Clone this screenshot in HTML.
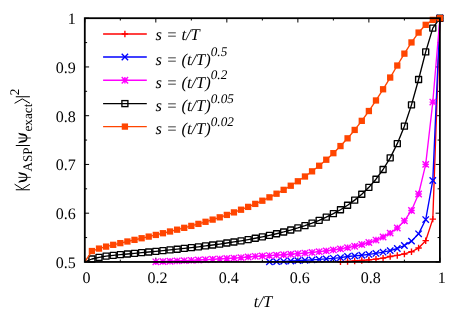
<!DOCTYPE html>
<html><head><meta charset="utf-8"><title>plot</title>
<style>html,body{margin:0;padding:0;background:#fff;overflow:hidden}body{width:463px;height:324px;position:relative;font-family:"Liberation Serif",serif}.tx{font-family:"Liberation Serif",serif;text-rendering:geometricPrecision}svg{will-change:transform}</style>
</head><body>
<svg width="463" height="324" viewBox="0 0 463 324" style="display:block;position:absolute;left:0;top:0">
<rect width="463" height="324" fill="#fff"/>
<defs><clipPath id="c"><rect x="84.8" y="18.2" width="355.09999999999997" height="243.75"/></clipPath></defs>
<path d="M84.80 261.95v-4.3M84.80 18.2v4.3M120.31 261.95v-2.3M120.31 18.2v2.3M155.82 261.95v-4.3M155.82 18.2v4.3M191.33 261.95v-2.3M191.33 18.2v2.3M226.84 261.95v-4.3M226.84 18.2v4.3M262.35 261.95v-2.3M262.35 18.2v2.3M297.86 261.95v-4.3M297.86 18.2v4.3M333.37 261.95v-2.3M333.37 18.2v2.3M368.88 261.95v-4.3M368.88 18.2v4.3M404.39 261.95v-2.3M404.39 18.2v2.3M439.90 261.95v-4.3M439.90 18.2v4.3M84.8 261.95h4.3M439.9 261.95h-4.3M84.8 237.57h2.3M439.9 237.57h-2.3M84.8 213.20h4.3M439.9 213.20h-4.3M84.8 188.82h2.3M439.9 188.82h-2.3M84.8 164.45h4.3M439.9 164.45h-4.3M84.8 140.07h2.3M439.9 140.07h-2.3M84.8 115.70h4.3M439.9 115.70h-4.3M84.8 91.32h2.3M439.9 91.32h-2.3M84.8 66.95h4.3M439.9 66.95h-4.3M84.8 42.58h2.3M439.9 42.58h-2.3M84.8 18.20h4.3M439.9 18.20h-4.3" stroke="#000" stroke-width="1" fill="none"/>
<g stroke="#ff0000" stroke-width="1.35" fill="none"><path d="M103.1 34.0H146.8"/><path d="M121.70 34.0H128.10M124.9 30.80V37.20"/></g>
<g stroke="#0000ff" stroke-width="1.35" fill="none"><path d="M103.1 57.0H146.8"/><path d="M121.70 53.80L128.10 60.20M121.70 60.20L128.10 53.80"/></g>
<g stroke="#ff00ff" stroke-width="1.35" fill="none"><path d="M103.1 80.2H146.8"/><path d="M121.70 80.2H128.10M124.9 77.00V83.40M121.70 77.00L128.10 83.40M121.70 83.40L128.10 77.00"/></g>
<g stroke="#000000" stroke-width="1.35" fill="none"><path d="M103.1 103.6H146.8"/><rect x="121.90" y="100.60" width="6.0" height="6.0"/></g>
<g stroke="#ff4500" stroke-width="1.35" fill="none"><path d="M103.1 126.6H146.8"/><rect x="121.75" y="123.45" width="6.3" height="6.3" fill="#ff4500" stroke="none"/></g>
<g stroke="#ff0000" stroke-width="1.35" fill="none" stroke-linejoin="round"><path d="M340.47 261.91L347.57 261.49L354.68 261.03L361.78 260.49L368.88 259.86L375.98 259.10L383.08 258.13L390.19 256.49L397.29 255.43L404.39 253.95L411.49 251.73L418.59 248.04L425.70 240.68L432.80 219.15L439.90 18.20"/>
<path d="M337.27 261.91H343.67M340.47 258.71V265.11"/><path d="M344.37 261.49H350.77M347.57 258.29V264.69"/><path d="M351.48 261.03H357.88M354.68 257.83V264.23"/><path d="M358.58 260.49H364.98M361.78 257.29V263.69"/><path d="M365.68 259.86H372.08M368.88 256.66V263.06"/><path d="M372.78 259.1H379.18M375.98 255.90V262.30"/><path d="M379.88 258.13H386.28M383.08 254.93V261.33"/><path d="M386.99 256.49H393.39M390.19 253.29V259.69"/><path d="M394.09 255.43H400.49M397.29 252.23V258.63"/><path d="M401.19 253.95H407.59M404.39 250.75V257.15"/><path d="M408.29 251.73H414.69M411.49 248.53V254.93"/><path d="M415.39 248.04H421.79M418.59 244.84V251.24"/><path d="M422.50 240.68H428.90M425.7 237.48V243.88"/><path d="M429.60 219.15H436.00M432.8 215.95V222.35"/><path d="M436.70 18.2H443.10M439.9 15.00V21.40"/>
</g>
<g stroke="#0000ff" stroke-width="1.35" fill="none" stroke-linejoin="round"><path d="M269.45 261.88L276.55 261.60L283.66 261.31L290.76 260.99L297.86 260.64L304.96 260.27L312.06 259.86L319.17 259.41L326.27 258.90L333.37 258.31L340.47 257.61L347.57 256.48L354.68 255.90L361.78 255.23L368.88 254.42L375.98 253.43L383.08 252.19L390.19 250.60L397.29 248.49L404.39 245.54L411.49 241.13L418.59 233.84L425.70 219.57L432.80 180.48L439.90 18.20"/>
<path d="M266.25 258.68L272.65 265.08M266.25 265.08L272.65 258.68"/><path d="M273.35 258.40L279.75 264.80M273.35 264.80L279.75 258.40"/><path d="M280.46 258.11L286.86 264.51M280.46 264.51L286.86 258.11"/><path d="M287.56 257.79L293.96 264.19M287.56 264.19L293.96 257.79"/><path d="M294.66 257.44L301.06 263.84M294.66 263.84L301.06 257.44"/><path d="M301.76 257.07L308.16 263.47M301.76 263.47L308.16 257.07"/><path d="M308.86 256.66L315.26 263.06M308.86 263.06L315.26 256.66"/><path d="M315.97 256.21L322.37 262.61M315.97 262.61L322.37 256.21"/><path d="M323.07 255.70L329.47 262.10M323.07 262.10L329.47 255.70"/><path d="M330.17 255.11L336.57 261.51M330.17 261.51L336.57 255.11"/><path d="M337.27 254.41L343.67 260.81M337.27 260.81L343.67 254.41"/><path d="M344.37 253.28L350.77 259.68M344.37 259.68L350.77 253.28"/><path d="M351.48 252.70L357.88 259.10M351.48 259.10L357.88 252.70"/><path d="M358.58 252.03L364.98 258.43M358.58 258.43L364.98 252.03"/><path d="M365.68 251.22L372.08 257.62M365.68 257.62L372.08 251.22"/><path d="M372.78 250.23L379.18 256.63M372.78 256.63L379.18 250.23"/><path d="M379.88 248.99L386.28 255.39M379.88 255.39L386.28 248.99"/><path d="M386.99 247.40L393.39 253.80M386.99 253.80L393.39 247.40"/><path d="M394.09 245.29L400.49 251.69M394.09 251.69L400.49 245.29"/><path d="M401.19 242.34L407.59 248.74M401.19 248.74L407.59 242.34"/><path d="M408.29 237.93L414.69 244.33M408.29 244.33L414.69 237.93"/><path d="M415.39 230.64L421.79 237.04M415.39 237.04L421.79 230.64"/><path d="M422.50 216.37L428.90 222.77M422.50 222.77L428.90 216.37"/><path d="M429.60 177.28L436.00 183.68M429.60 183.68L436.00 177.28"/><path d="M436.70 15.00L443.10 21.40M436.70 21.40L443.10 15.00"/>
</g>
<g stroke="#ff00ff" stroke-width="1.35" fill="none" stroke-linejoin="round"><path d="M155.82 261.81L162.92 261.52L170.02 261.23L177.13 260.93L184.23 260.63L191.33 260.31L198.43 259.99L205.53 259.65L212.64 259.30L219.74 258.92L226.84 258.52L233.94 258.09L241.04 257.61L248.15 257.03L255.25 256.33L262.35 255.97L269.45 255.59L276.55 255.17L283.66 254.72L290.76 254.23L297.86 253.68L304.96 253.09L312.06 252.43L319.17 251.69L326.27 250.87L333.37 249.93L340.47 248.87L347.57 247.64L354.68 246.22L361.78 244.53L368.88 242.52L375.98 240.07L383.08 237.02L390.19 233.12L397.29 227.97L404.39 220.87L411.49 210.48L418.59 193.98L425.70 164.35L432.80 102.06L439.90 18.20"/>
<path d="M152.62 261.81H159.02M155.82 258.61V265.01M152.62 258.61L159.02 265.01M152.62 265.01L159.02 258.61"/><path d="M159.72 261.52H166.12M162.92 258.32V264.72M159.72 258.32L166.12 264.72M159.72 264.72L166.12 258.32"/><path d="M166.82 261.23H173.22M170.02 258.03V264.43M166.82 258.03L173.22 264.43M166.82 264.43L173.22 258.03"/><path d="M173.93 260.93H180.33M177.13 257.73V264.13M173.93 257.73L180.33 264.13M173.93 264.13L180.33 257.73"/><path d="M181.03 260.63H187.43M184.23 257.43V263.83M181.03 257.43L187.43 263.83M181.03 263.83L187.43 257.43"/><path d="M188.13 260.31H194.53M191.33 257.11V263.51M188.13 257.11L194.53 263.51M188.13 263.51L194.53 257.11"/><path d="M195.23 259.99H201.63M198.43 256.79V263.19M195.23 256.79L201.63 263.19M195.23 263.19L201.63 256.79"/><path d="M202.33 259.65H208.73M205.53 256.45V262.85M202.33 256.45L208.73 262.85M202.33 262.85L208.73 256.45"/><path d="M209.44 259.3H215.84M212.64 256.10V262.50M209.44 256.10L215.84 262.50M209.44 262.50L215.84 256.10"/><path d="M216.54 258.92H222.94M219.74 255.72V262.12M216.54 255.72L222.94 262.12M216.54 262.12L222.94 255.72"/><path d="M223.64 258.52H230.04M226.84 255.32V261.72M223.64 255.32L230.04 261.72M223.64 261.72L230.04 255.32"/><path d="M230.74 258.09H237.14M233.94 254.89V261.29M230.74 254.89L237.14 261.29M230.74 261.29L237.14 254.89"/><path d="M237.84 257.61H244.24M241.04 254.41V260.81M237.84 254.41L244.24 260.81M237.84 260.81L244.24 254.41"/><path d="M244.95 257.03H251.35M248.15 253.83V260.23M244.95 253.83L251.35 260.23M244.95 260.23L251.35 253.83"/><path d="M252.05 256.33H258.45M255.25 253.13V259.53M252.05 253.13L258.45 259.53M252.05 259.53L258.45 253.13"/><path d="M259.15 255.97H265.55M262.35 252.77V259.17M259.15 252.77L265.55 259.17M259.15 259.17L265.55 252.77"/><path d="M266.25 255.59H272.65M269.45 252.39V258.79M266.25 252.39L272.65 258.79M266.25 258.79L272.65 252.39"/><path d="M273.35 255.17H279.75M276.55 251.97V258.37M273.35 251.97L279.75 258.37M273.35 258.37L279.75 251.97"/><path d="M280.46 254.72H286.86M283.66 251.52V257.92M280.46 251.52L286.86 257.92M280.46 257.92L286.86 251.52"/><path d="M287.56 254.23H293.96M290.76 251.03V257.43M287.56 251.03L293.96 257.43M287.56 257.43L293.96 251.03"/><path d="M294.66 253.68H301.06M297.86 250.48V256.88M294.66 250.48L301.06 256.88M294.66 256.88L301.06 250.48"/><path d="M301.76 253.09H308.16M304.96 249.89V256.29M301.76 249.89L308.16 256.29M301.76 256.29L308.16 249.89"/><path d="M308.86 252.43H315.26M312.06 249.23V255.63M308.86 249.23L315.26 255.63M308.86 255.63L315.26 249.23"/><path d="M315.97 251.69H322.37M319.17 248.49V254.89M315.97 248.49L322.37 254.89M315.97 254.89L322.37 248.49"/><path d="M323.07 250.87H329.47M326.27 247.67V254.07M323.07 247.67L329.47 254.07M323.07 254.07L329.47 247.67"/><path d="M330.17 249.93H336.57M333.37 246.73V253.13M330.17 246.73L336.57 253.13M330.17 253.13L336.57 246.73"/><path d="M337.27 248.87H343.67M340.47 245.67V252.07M337.27 245.67L343.67 252.07M337.27 252.07L343.67 245.67"/><path d="M344.37 247.64H350.77M347.57 244.44V250.84M344.37 244.44L350.77 250.84M344.37 250.84L350.77 244.44"/><path d="M351.48 246.22H357.88M354.68 243.02V249.42M351.48 243.02L357.88 249.42M351.48 249.42L357.88 243.02"/><path d="M358.58 244.53H364.98M361.78 241.33V247.73M358.58 241.33L364.98 247.73M358.58 247.73L364.98 241.33"/><path d="M365.68 242.52H372.08M368.88 239.32V245.72M365.68 239.32L372.08 245.72M365.68 245.72L372.08 239.32"/><path d="M372.78 240.07H379.18M375.98 236.87V243.27M372.78 236.87L379.18 243.27M372.78 243.27L379.18 236.87"/><path d="M379.88 237.02H386.28M383.08 233.82V240.22M379.88 233.82L386.28 240.22M379.88 240.22L386.28 233.82"/><path d="M386.99 233.12H393.39M390.19 229.92V236.32M386.99 229.92L393.39 236.32M386.99 236.32L393.39 229.92"/><path d="M394.09 227.97H400.49M397.29 224.77V231.17M394.09 224.77L400.49 231.17M394.09 231.17L400.49 224.77"/><path d="M401.19 220.87H407.59M404.39 217.67V224.07M401.19 217.67L407.59 224.07M401.19 224.07L407.59 217.67"/><path d="M408.29 210.48H414.69M411.49 207.28V213.68M408.29 207.28L414.69 213.68M408.29 213.68L414.69 207.28"/><path d="M415.39 193.98H421.79M418.59 190.78V197.18M415.39 190.78L421.79 197.18M415.39 197.18L421.79 190.78"/><path d="M422.50 164.35H428.90M425.7 161.15V167.55M422.50 161.15L428.90 167.55M422.50 167.55L428.90 161.15"/><path d="M429.60 102.06H436.00M432.8 98.86V105.26M429.60 98.86L436.00 105.26M429.60 105.26L436.00 98.86"/><path d="M436.70 18.2H443.10M439.9 15.00V21.40M436.70 15.00L443.10 21.40M436.70 21.40L443.10 15.00"/>
</g>
<g stroke="#000000" stroke-width="1.35" fill="none" stroke-linejoin="round"><path d="M84.80 261.95L91.90 259.00L99.00 257.41L106.11 256.06L113.21 255.34L120.31 254.66L127.41 254.00L134.51 253.34L141.62 252.69L148.72 252.02L155.82 251.34L162.92 250.65L170.02 249.94L177.13 249.20L184.23 248.43L191.33 247.64L198.43 246.81L205.53 245.93L212.64 245.02L219.74 244.05L226.84 243.03L233.94 241.95L241.04 240.80L248.15 239.58L255.25 238.27L262.35 236.86L269.45 235.35L276.55 233.72L283.66 231.96L290.76 230.03L297.86 227.94L304.96 225.64L312.06 223.10L319.17 220.30L326.27 217.17L333.37 213.68L340.47 209.73L347.57 205.26L354.68 200.13L361.78 194.22L368.88 187.33L375.98 179.20L383.08 169.52L390.19 157.86L397.29 143.64L404.39 126.19L411.49 104.86L418.59 79.51L425.70 51.92L432.80 28.10L439.90 18.20"/>
<rect x="88.90" y="256.00" width="6.0" height="6.0"/><rect x="96.00" y="254.41" width="6.0" height="6.0"/><rect x="103.11" y="253.06" width="6.0" height="6.0"/><rect x="110.21" y="252.34" width="6.0" height="6.0"/><rect x="117.31" y="251.66" width="6.0" height="6.0"/><rect x="124.41" y="251.00" width="6.0" height="6.0"/><rect x="131.51" y="250.34" width="6.0" height="6.0"/><rect x="138.62" y="249.69" width="6.0" height="6.0"/><rect x="145.72" y="249.02" width="6.0" height="6.0"/><rect x="152.82" y="248.34" width="6.0" height="6.0"/><rect x="159.92" y="247.65" width="6.0" height="6.0"/><rect x="167.02" y="246.94" width="6.0" height="6.0"/><rect x="174.13" y="246.20" width="6.0" height="6.0"/><rect x="181.23" y="245.43" width="6.0" height="6.0"/><rect x="188.33" y="244.64" width="6.0" height="6.0"/><rect x="195.43" y="243.81" width="6.0" height="6.0"/><rect x="202.53" y="242.93" width="6.0" height="6.0"/><rect x="209.64" y="242.02" width="6.0" height="6.0"/><rect x="216.74" y="241.05" width="6.0" height="6.0"/><rect x="223.84" y="240.03" width="6.0" height="6.0"/><rect x="230.94" y="238.95" width="6.0" height="6.0"/><rect x="238.04" y="237.80" width="6.0" height="6.0"/><rect x="245.15" y="236.58" width="6.0" height="6.0"/><rect x="252.25" y="235.27" width="6.0" height="6.0"/><rect x="259.35" y="233.86" width="6.0" height="6.0"/><rect x="266.45" y="232.35" width="6.0" height="6.0"/><rect x="273.55" y="230.72" width="6.0" height="6.0"/><rect x="280.66" y="228.96" width="6.0" height="6.0"/><rect x="287.76" y="227.03" width="6.0" height="6.0"/><rect x="294.86" y="224.94" width="6.0" height="6.0"/><rect x="301.96" y="222.64" width="6.0" height="6.0"/><rect x="309.06" y="220.10" width="6.0" height="6.0"/><rect x="316.17" y="217.30" width="6.0" height="6.0"/><rect x="323.27" y="214.17" width="6.0" height="6.0"/><rect x="330.37" y="210.68" width="6.0" height="6.0"/><rect x="337.47" y="206.73" width="6.0" height="6.0"/><rect x="344.57" y="202.26" width="6.0" height="6.0"/><rect x="351.68" y="197.13" width="6.0" height="6.0"/><rect x="358.78" y="191.22" width="6.0" height="6.0"/><rect x="365.88" y="184.33" width="6.0" height="6.0"/><rect x="372.98" y="176.20" width="6.0" height="6.0"/><rect x="380.08" y="166.52" width="6.0" height="6.0"/><rect x="387.19" y="154.86" width="6.0" height="6.0"/><rect x="394.29" y="140.64" width="6.0" height="6.0"/><rect x="401.39" y="123.19" width="6.0" height="6.0"/><rect x="408.49" y="101.86" width="6.0" height="6.0"/><rect x="415.59" y="76.51" width="6.0" height="6.0"/><rect x="422.70" y="48.92" width="6.0" height="6.0"/><rect x="429.80" y="25.10" width="6.0" height="6.0"/><rect x="436.90" y="15.20" width="6.0" height="6.0"/>
</g>
<g stroke="#ff4500" stroke-width="1.35" fill="none" stroke-linejoin="round"><path d="M84.80 261.95L91.90 251.03L99.00 248.59L106.11 246.61L113.21 244.82L120.31 243.13L127.41 241.49L134.51 239.86L141.62 238.24L148.72 236.60L155.82 234.93L162.92 233.23L170.02 231.49L177.13 229.69L184.23 227.83L191.33 225.90L198.43 223.89L205.53 221.80L212.64 219.62L219.74 217.33L226.84 214.92L233.94 212.39L241.04 209.72L248.15 206.89L255.25 203.90L262.35 200.72L269.45 197.33L276.55 193.72L283.66 189.86L290.76 185.73L297.86 181.28L304.96 176.50L312.06 171.34L319.17 165.76L326.27 159.73L333.37 153.17L340.47 146.06L347.57 138.33L354.68 129.94L361.78 120.85L368.88 111.02L375.98 100.47L383.08 89.27L390.19 77.54L397.29 65.53L404.39 53.65L411.49 42.43L418.59 32.57L425.70 24.83L432.80 19.89L439.90 18.20"/>
<rect x="88.75" y="247.88" width="6.3" height="6.3" fill="#ff4500" stroke="none"/><rect x="95.85" y="245.44" width="6.3" height="6.3" fill="#ff4500" stroke="none"/><rect x="102.96" y="243.46" width="6.3" height="6.3" fill="#ff4500" stroke="none"/><rect x="110.06" y="241.67" width="6.3" height="6.3" fill="#ff4500" stroke="none"/><rect x="117.16" y="239.98" width="6.3" height="6.3" fill="#ff4500" stroke="none"/><rect x="124.26" y="238.34" width="6.3" height="6.3" fill="#ff4500" stroke="none"/><rect x="131.36" y="236.71" width="6.3" height="6.3" fill="#ff4500" stroke="none"/><rect x="138.47" y="235.09" width="6.3" height="6.3" fill="#ff4500" stroke="none"/><rect x="145.57" y="233.45" width="6.3" height="6.3" fill="#ff4500" stroke="none"/><rect x="152.67" y="231.78" width="6.3" height="6.3" fill="#ff4500" stroke="none"/><rect x="159.77" y="230.08" width="6.3" height="6.3" fill="#ff4500" stroke="none"/><rect x="166.87" y="228.34" width="6.3" height="6.3" fill="#ff4500" stroke="none"/><rect x="173.98" y="226.54" width="6.3" height="6.3" fill="#ff4500" stroke="none"/><rect x="181.08" y="224.68" width="6.3" height="6.3" fill="#ff4500" stroke="none"/><rect x="188.18" y="222.75" width="6.3" height="6.3" fill="#ff4500" stroke="none"/><rect x="195.28" y="220.74" width="6.3" height="6.3" fill="#ff4500" stroke="none"/><rect x="202.38" y="218.65" width="6.3" height="6.3" fill="#ff4500" stroke="none"/><rect x="209.49" y="216.47" width="6.3" height="6.3" fill="#ff4500" stroke="none"/><rect x="216.59" y="214.18" width="6.3" height="6.3" fill="#ff4500" stroke="none"/><rect x="223.69" y="211.77" width="6.3" height="6.3" fill="#ff4500" stroke="none"/><rect x="230.79" y="209.24" width="6.3" height="6.3" fill="#ff4500" stroke="none"/><rect x="237.89" y="206.57" width="6.3" height="6.3" fill="#ff4500" stroke="none"/><rect x="245.00" y="203.74" width="6.3" height="6.3" fill="#ff4500" stroke="none"/><rect x="252.10" y="200.75" width="6.3" height="6.3" fill="#ff4500" stroke="none"/><rect x="259.20" y="197.57" width="6.3" height="6.3" fill="#ff4500" stroke="none"/><rect x="266.30" y="194.18" width="6.3" height="6.3" fill="#ff4500" stroke="none"/><rect x="273.40" y="190.57" width="6.3" height="6.3" fill="#ff4500" stroke="none"/><rect x="280.51" y="186.71" width="6.3" height="6.3" fill="#ff4500" stroke="none"/><rect x="287.61" y="182.58" width="6.3" height="6.3" fill="#ff4500" stroke="none"/><rect x="294.71" y="178.13" width="6.3" height="6.3" fill="#ff4500" stroke="none"/><rect x="301.81" y="173.35" width="6.3" height="6.3" fill="#ff4500" stroke="none"/><rect x="308.91" y="168.19" width="6.3" height="6.3" fill="#ff4500" stroke="none"/><rect x="316.02" y="162.61" width="6.3" height="6.3" fill="#ff4500" stroke="none"/><rect x="323.12" y="156.58" width="6.3" height="6.3" fill="#ff4500" stroke="none"/><rect x="330.22" y="150.02" width="6.3" height="6.3" fill="#ff4500" stroke="none"/><rect x="337.32" y="142.91" width="6.3" height="6.3" fill="#ff4500" stroke="none"/><rect x="344.42" y="135.18" width="6.3" height="6.3" fill="#ff4500" stroke="none"/><rect x="351.53" y="126.79" width="6.3" height="6.3" fill="#ff4500" stroke="none"/><rect x="358.63" y="117.70" width="6.3" height="6.3" fill="#ff4500" stroke="none"/><rect x="365.73" y="107.87" width="6.3" height="6.3" fill="#ff4500" stroke="none"/><rect x="372.83" y="97.32" width="6.3" height="6.3" fill="#ff4500" stroke="none"/><rect x="379.93" y="86.12" width="6.3" height="6.3" fill="#ff4500" stroke="none"/><rect x="387.04" y="74.39" width="6.3" height="6.3" fill="#ff4500" stroke="none"/><rect x="394.14" y="62.38" width="6.3" height="6.3" fill="#ff4500" stroke="none"/><rect x="401.24" y="50.50" width="6.3" height="6.3" fill="#ff4500" stroke="none"/><rect x="408.34" y="39.28" width="6.3" height="6.3" fill="#ff4500" stroke="none"/><rect x="415.44" y="29.42" width="6.3" height="6.3" fill="#ff4500" stroke="none"/><rect x="422.55" y="21.68" width="6.3" height="6.3" fill="#ff4500" stroke="none"/><rect x="429.65" y="16.74" width="6.3" height="6.3" fill="#ff4500" stroke="none"/><rect x="436.75" y="15.05" width="6.3" height="6.3" fill="#ff4500" stroke="none"/>
</g>
<rect x="84.8" y="18.2" width="355.10" height="243.75" fill="none" stroke="#000" stroke-width="1.8"/>
<g class="tx" font-size="16.5" fill="#000">
<text x="75.7" y="267.85" text-anchor="end" font-size="16">0.5</text>
<text x="75.7" y="219.10" text-anchor="end" font-size="16">0.6</text>
<text x="75.7" y="170.35" text-anchor="end" font-size="16">0.7</text>
<text x="75.7" y="121.60" text-anchor="end" font-size="16">0.8</text>
<text x="75.7" y="72.85" text-anchor="end" font-size="16">0.9</text>
<text x="75.7" y="24.10" text-anchor="end" font-size="16">1</text>
<text x="86.60" y="283.4" text-anchor="middle" font-size="16">0</text>
<text x="157.62" y="283.4" text-anchor="middle" font-size="16">0.2</text>
<text x="228.64" y="283.4" text-anchor="middle" font-size="16">0.4</text>
<text x="299.66" y="283.4" text-anchor="middle" font-size="16">0.6</text>
<text x="370.68" y="283.4" text-anchor="middle" font-size="16">0.8</text>
<text x="441.70" y="283.4" text-anchor="middle" font-size="16">1</text>
<text x="263" y="306.7" text-anchor="middle" font-style="italic">t/T</text>
<text x="155.6" y="39.5" font-style="italic" xml:space="preserve">s = t/T</text>
<text x="155.6" y="64.5" font-style="italic" xml:space="preserve">s = (t/T)<tspan dy="-8.3" font-size="13.2">0.5</tspan></text>
<text x="155.6" y="87.7" font-style="italic" xml:space="preserve">s = (t/T)<tspan dy="-8.3" font-size="13.2">0.2</tspan></text>
<text x="155.6" y="111.0" font-style="italic" xml:space="preserve">s = (t/T)<tspan dy="-8.3" font-size="13.2">0.05</tspan></text>
<text x="155.6" y="133.8" font-style="italic" xml:space="preserve">s = (t/T)<tspan dy="-8.3" font-size="13.2">0.02</tspan></text>
<g transform="translate(27.0,191.5) rotate(-90)">
<path d="M1.7,-11.2V2.9M46.0,-11.2V2.9M94.8,-11.2V2.9" stroke="#000" stroke-width="1.05" fill="none"/>
<path d="M7.3,-12.4L2.5,-4.75L7.3,2.9M88.2,-12.4L92.6,-4.75L88.2,2.9" stroke="#000" stroke-width="1.0" fill="none" stroke-linejoin="miter"/>
<g transform="translate(8.5,0)"><path d="M0.3,-8.7C0.9,-7.5 1.0,-6 1.1,-4.5C1.3,-1.2 2.8,0.4 5.6,0.4C8.4,0.4 9.9,-1.2 10.1,-4.5C10.2,-6 10.3,-7.5 10.9,-8.7C9.0,-8.2 8.4,-6.5 8.2,-4.5C8.0,-2 7.2,-0.6 5.6,-0.6C4.0,-0.6 3.2,-2 3.0,-4.5C2.8,-6.5 2.2,-8.2 0.3,-8.7Z" fill="#000"/><path d="M5.6,-8.6V3.8" stroke="#000" stroke-width="0.8" fill="none"/></g>
<g transform="translate(47.9,0)"><path d="M0.3,-8.7C0.9,-7.5 1.0,-6 1.1,-4.5C1.3,-1.2 2.8,0.4 5.6,0.4C8.4,0.4 9.9,-1.2 10.1,-4.5C10.2,-6 10.3,-7.5 10.9,-8.7C9.0,-8.2 8.4,-6.5 8.2,-4.5C8.0,-2 7.2,-0.6 5.6,-0.6C4.0,-0.6 3.2,-2 3.0,-4.5C2.8,-6.5 2.2,-8.2 0.3,-8.7Z" fill="#000"/><path d="M5.6,-8.6V3.8" stroke="#000" stroke-width="0.8" fill="none"/></g>
<text x="20.0" y="5.0" font-size="13.2">ASP</text>
<text x="60.0" y="5.0" font-size="13.2">exact</text>
<text x="96.2" y="-8.1" font-size="13.2">2</text>
</g>
</g>
</svg>
</body></html>
